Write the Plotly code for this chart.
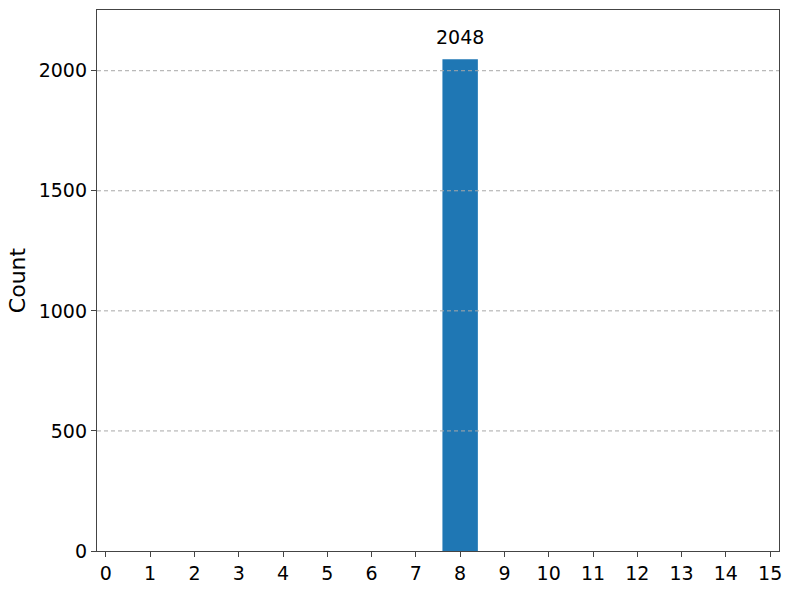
import plotly.graph_objects as go

states = [str(i) for i in range(16)]
counts = [0, 0, 0, 0, 0, 0, 0, 0, 2048, 0, 0, 0, 0, 0, 0, 0]
y_ticks = [0, 500, 1000, 1500, 2000]

fig = go.Figure()
fig.add_trace(go.Bar(x=list(range(16)), y=counts, width=0.8,
                     marker=dict(color='#1f77b4', line=dict(width=0))))

# label only non-zero bars
for i, c in enumerate(counts):
    if c > 0:
        fig.add_annotation(x=i, y=c, text=str(c), showarrow=False,
                           yanchor='bottom', yshift=9,
                           font=dict(size=19, color='black'))

# grid drawn on top of bars, like the matplotlib original
for v in y_ticks[1:]:
    fig.add_shape(type='line', xref='paper', x0=0, x1=1, yref='y', y0=v, y1=v,
                  line=dict(color='#a8a8a8', width=1, dash='4px,3px'), layer='above')

fig.update_layout(
    width=793, height=590,
    margin=dict(l=97, r=14, t=10, b=39, autoexpand=False),
    plot_bgcolor='white', paper_bgcolor='white',
    font=dict(family='DejaVu Sans', size=19, color='black'),
    showlegend=False,
    xaxis=dict(range=[-0.2, 15.2], tickmode='array', tickvals=list(range(16)), ticktext=states,
               showgrid=False, zeroline=False, showline=True, linecolor='#444', linewidth=1.3,
               mirror=True, ticks='outside', ticklen=5, tickcolor='#444', automargin=False),
    yaxis=dict(range=[0, 2252.8], tickmode='array', tickvals=y_ticks,
               showgrid=False, zeroline=False, showline=True, linecolor='#444', linewidth=1.3,
               mirror=True, ticks='outside', ticklen=5, tickcolor='#444', automargin=False,
               title=dict(text='Count', font=dict(size=22), standoff=6)),
)

fig.write_html("out.html", config={'displayModeBar': False},
               post_script="document.body.style.margin='0';")
